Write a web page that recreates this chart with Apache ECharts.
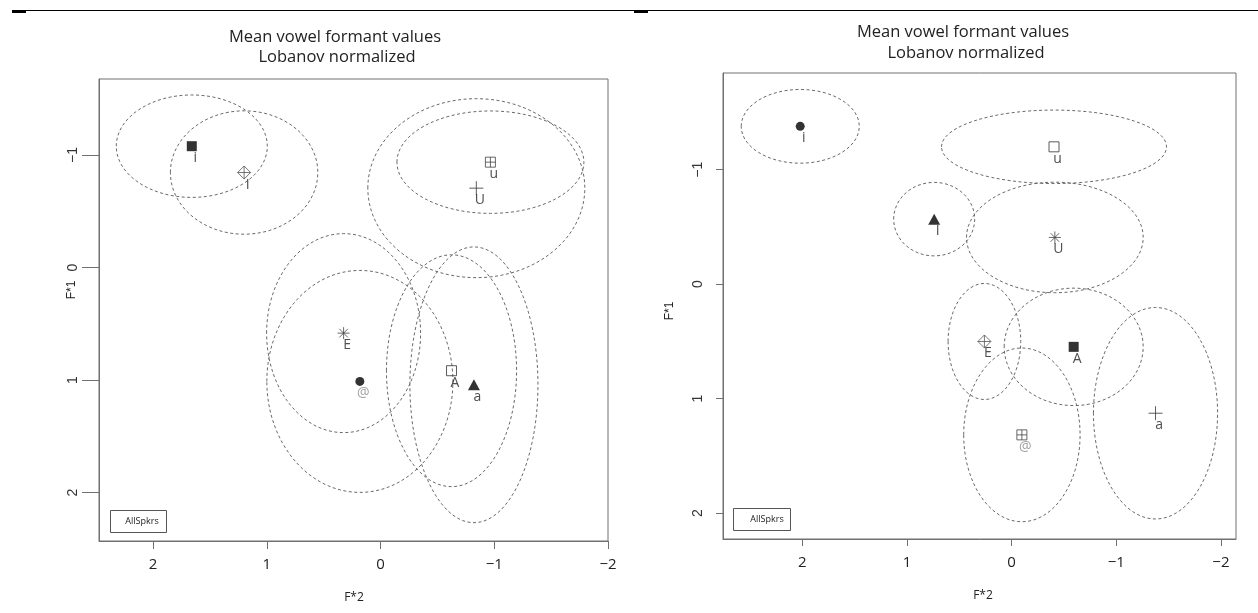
<!DOCTYPE html>
<html>
<head>
<meta charset="utf-8">
<script src="https://cdn.jsdelivr.net/npm/echarts@6/dist/echarts.min.js"></script>
<style>
html,body{margin:0;padding:0;background:#fff;}
#c{width:1258px;height:613px;}
</style>
</head>
<body>
<div id="c"></div>
<script>
// ---------- data ----------
const vowels = ['i', 'I', 'u', 'U', 'E', '@', 'A', 'a'];
const xTicks = [2, 1, 0, -1, -2];
const yTicks = [-1, 0, 1, 2];

// left panel: mean F*2, mean F*1, ellipse radii (F*2, F*1)
const leftF2 = [1.66, 1.20, -0.966, -0.842, 0.325, 0.182, -0.624, -0.821];
const leftF1 = [-1.078, -0.844, -0.936, -0.705, 0.583, 1.012, 0.917, 1.042];
const leftRx = [0.664, 0.648, 0.822, 0.954, 0.677, 0.818, 0.572, 0.563];
const leftRy = [0.455, 0.548, 0.455, 0.795, 0.884, 0.986, 1.03, 1.225];

// right panel
const rightF2 = [2.02, 0.74, -0.405, -0.413, 0.26, -0.098, -0.593, -1.375];
const rightF1 = [-1.379, -0.568, -1.20, -0.408, 0.501, 1.317, 0.548, 1.128];
const rightRx = [0.564, 0.387, 1.075, 0.844, 0.347, 0.556, 0.664, 0.593];
const rightRy = [0.322, 0.321, 0.321, 0.483, 0.507, 0.759, 0.513, 0.924];

const titleLine1 = 'Mean vowel formant values';
const titleLine2 = 'Lobanov normalized';
const legendText = 'AllSpkrs';

// ---------- styles ----------
const leftShapes = {i:'sqFill', I:'diamondPlus', u:'sqPlus', U:'plus', E:'asterisk', '@':'circleFill', A:'sqOpen', a:'triFill'};
const rightShapes = {i:'circleFill', I:'triFill', u:'sqOpen', U:'asterisk', E:'diamondPlus', '@':'sqPlus', A:'sqFill', a:'plus'};
const NONE = 'rgba(0,0,0,0)';
const SHAPES = {
  sqFill: {symbol:'rect', size:10, fill:'#000', stroke:'#000', bw:0},
  sqOpen: {symbol:'rect', size:10, fill:NONE, stroke:'#333', bw:1},
  sqPlus: {symbol:'path://M0,0L10,0L10,10L0,10ZM0,5L10,5M5,0L5,10', size:10, fill:NONE, stroke:'#444', bw:1},
  diamondPlus: {symbol:'path://M5,0L10,5L5,10L0,5ZM0,5L10,5M5,0L5,10', size:13, fill:NONE, stroke:'#555', bw:1},
  plus: {symbol:'path://M0,5L10,5M5,0L5,10', size:14, fill:NONE, stroke:'#333', bw:1},
  asterisk: {symbol:'path://M5,0L5,10M0,5L10,5M1.46,1.46L8.54,8.54M8.54,1.46L1.46,8.54', size:12, fill:NONE, stroke:'#444', bw:1},
  circleFill: {symbol:'circle', size:9, fill:'#000', stroke:'#000', bw:0},
  triFill: {symbol:'triangle', size:[12, 11], fill:'#000', stroke:'#000', bw:0}
};
const AXIS_COLOR = '#707070';
const fmt = v => (v < 0 ? '\u2212' + Math.abs(v) : String(v));

function markerData(f2, f1, shapes) {
  return vowels.map((v, k) => {
    const s = SHAPES[shapes[v]];
    return {
      value: [f2[k], f1[k]], name: v,
      symbol: s.symbol, symbolSize: s.size,
      itemStyle: {color: s.fill, borderColor: s.stroke, borderWidth: s.bw},
      label: {color: v === '@' ? '#888' : '#222'}
    };
  });
}
function ellipseData(f2, f1, rx, ry) {
  return vowels.map((v, k) => [f2[k], f1[k], rx[k], ry[k]]);
}
function renderEllipse(params, api) {
  const c = api.coord([api.value(0), api.value(1)]);
  const s = api.size([api.value(2), api.value(3)], [api.value(0), api.value(1)]);
  return {
    type: 'ellipse', x: c[0], y: c[1],
    shape: {cx: 0, cy: 0, rx: s[0], ry: s[1]},
    style: {fill: NONE, stroke: '#6a6a6a', lineWidth: 1, lineDash: [3, 2.5]}
  };
}
function xAxisCfg(gi, min, max, tickLen) {
  return {
    type: 'value', gridIndex: gi, inverse: true, min: min, max: max,
    splitLine: {show: false},
    axisLine: {show: true, onZero: false, lineStyle: {color: AXIS_COLOR, width: 1}},
    axisTick: {show: true, length: tickLen, customValues: xTicks, lineStyle: {color: AXIS_COLOR}},
    axisLabel: {customValues: xTicks, formatter: fmt, margin: 16, fontSize: 15, fontFamily: 'Open Sans', color: '#222'}
  };
}
function yAxisCfg(gi, min, max, tickLen, margin) {
  return {
    type: 'value', gridIndex: gi, inverse: true, min: min, max: max,
    splitLine: {show: false},
    axisLine: {show: true, onZero: false, lineStyle: {color: AXIS_COLOR, width: 1}},
    axisTick: {show: true, length: tickLen, customValues: yTicks, lineStyle: {color: AXIS_COLOR}},
    axisLabel: {customValues: yTicks, formatter: fmt, rotate: 90, margin: margin, fontSize: 14, fontFamily: 'Liberation Sans', color: '#333'}
  };
}
function txt(x, y, text, size, opts) {
  opts = opts || {};
  return {
    type: 'text', x: x, y: y, rotation: opts.rot || 0, silent: true,
    style: {
      text: text, fill: opts.color || '#222',
      font: size + 'px ' + (opts.family || '"Open Sans"'),
      align: 'center', verticalAlign: 'middle', textAlign: 'center', textVerticalAlign: 'middle'
    }
  };
}

const labelCfg = {show: true, position: 'inside', offset: [3.5, 12], formatter: p => p.name, fontSize: 14, fontFamily: 'Open Sans'};

const option = {
  animation: false,
  backgroundColor: '#fff',
  grid: [
    {left: 99, top: 79, width: 509, height: 462, show: true, borderColor: AXIS_COLOR, borderWidth: 1},
    {left: 723, top: 73, width: 513, height: 466, show: true, borderColor: AXIS_COLOR, borderWidth: 1}
  ],
  xAxis: [xAxisCfg(0, -2.0, 2.476, 8), xAxisCfg(1, -2.144, 2.758, 7)],
  yAxis: [yAxisCfg(0, -1.675, 2.43, 17, 19), yAxisCfg(1, -1.845, 2.227, 7, 18)],
  series: [
    {type: 'custom', xAxisIndex: 0, yAxisIndex: 0, data: ellipseData(leftF2, leftF1, leftRx, leftRy), renderItem: renderEllipse, silent: true, z: 1},
    {type: 'custom', xAxisIndex: 1, yAxisIndex: 1, data: ellipseData(rightF2, rightF1, rightRx, rightRy), renderItem: renderEllipse, silent: true, z: 1},
    {type: 'scatter', xAxisIndex: 0, yAxisIndex: 0, data: markerData(leftF2, leftF1, leftShapes), label: labelCfg, silent: true, z: 3},
    {type: 'scatter', xAxisIndex: 1, yAxisIndex: 1, data: markerData(rightF2, rightF1, rightShapes), label: labelCfg, silent: true, z: 3}
  ],
  graphic: [
    {type: 'line', silent: true, shape: {x1: 12, y1: 10.5, x2: 1258, y2: 10.5}, style: {stroke: '#000', lineWidth: 1.2}},
    {type: 'rect', silent: true, shape: {x: 12, y: 10, width: 14, height: 3}, style: {fill: '#000'}},
    {type: 'rect', silent: true, shape: {x: 634, y: 10, width: 14, height: 3}, style: {fill: '#000'}},
    txt(335, 37, titleLine1, 16.5),
    txt(337, 57, titleLine2, 16.5),
    txt(963, 32, titleLine1, 16.5),
    txt(966, 53, titleLine2, 16.5),
    txt(354, 598, 'F*2', 12),
    txt(983, 596, 'F*2', 12),
    txt(72, 290, 'F*1', 12, {rot: Math.PI / 2, family: '"Liberation Sans"'}),
    txt(670, 311, 'F*1', 12, {rot: Math.PI / 2, family: '"Liberation Sans"'}),
    {type: 'rect', silent: true, shape: {x: 110.5, y: 510.5, width: 56, height: 22}, style: {fill: NONE, stroke: '#555', lineWidth: 1}},
    txt(142, 521.5, legendText, 9),
    {type: 'rect', silent: true, shape: {x: 733.5, y: 508.5, width: 57, height: 22}, style: {fill: NONE, stroke: '#555', lineWidth: 1}},
    txt(767, 519.5, legendText, 9)
  ]
};

const chart = echarts.init(document.getElementById('c'));
chart.setOption(option);
</script>
</body>
</html>
